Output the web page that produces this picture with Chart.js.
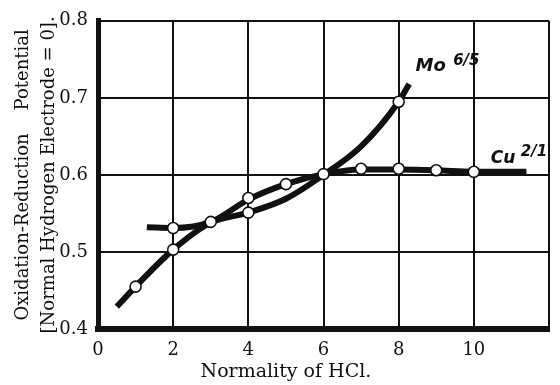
<!DOCTYPE html>
<html>
<head>
<meta charset="utf-8">
<script src="https://cdn.jsdelivr.net/npm/chart.js@4"></script>
<style>
  html, body { margin: 0; padding: 0; background: #fff; }
  #wrap { width: 560px; height: 385px; }
</style>
</head>
<body>
<div id="wrap"><canvas id="chart"></canvas></div>
<script>
// smooth curves as drawn in the figure
const moCurveX = [0.5, 1, 2, 3, 4, 5, 6, 7, 8, 8.28]
const moCurveY = [0.429, 0.455, 0.503, 0.538, 0.551, 0.569, 0.600, 0.637, 0.695, 0.718]
const cuCurveX = [1.3, 2, 3, 4, 5, 6, 7, 8, 9, 10, 11.4]
const cuCurveY = [0.532, 0.531, 0.539, 0.568, 0.588, 0.601, 0.607, 0.607, 0.606, 0.604, 0.604]

// measured points (open circles)
const moPointX = [1, 2, 4, 8]
const moPointY = [0.455, 0.503, 0.551, 0.695]
const cuPointX = [2, 3, 4, 5, 6, 7, 8, 9, 10]
const cuPointY = [0.531, 0.539, 0.570, 0.588, 0.601, 0.608, 0.608, 0.606, 0.604]

const xTitle = "Normality of HCl."
const yTitle = ["Oxidation-Reduction    Potential", "[Normal Hydrogen Electrode = 0]."]

const ink = "#111"
const serif = "'DejaVu Serif', serif"

function toPoints(xs, ys){
    return xs.map((x, i) => ({x: x, y: ys[i]}))
}

function curve(xs, ys){
    return {
        data: toPoints(xs, ys),
        showLine: true,
        borderColor: ink,
        borderWidth: 6,
        borderCapStyle: "butt",
        cubicInterpolationMode: "monotone",
        pointRadius: 0,
        order: 2
    }
}

function circles(xs, ys){
    return {
        data: toPoints(xs, ys),
        showLine: false,
        pointRadius: 5.5,
        pointBorderWidth: 1.6,
        pointBorderColor: ink,
        pointBackgroundColor: "#fff",
        order: 1
    }
}

//labels on the curves + x axis title
const textPlugin = {
    id: "textPlugin",
    afterDatasetsDraw(chart){
        const ctx = chart.ctx
        const xs = chart.scales.x, ys = chart.scales.y
        ctx.save()
        ctx.fillStyle = ink
        ctx.textBaseline = "alphabetic"

        ctx.font = "italic bold 18px 'DejaVu Sans', sans-serif"
        ctx.fillText("Mo", xs.getPixelForValue(8.45), ys.getPixelForValue(0.735))
        ctx.font = "italic bold 15px 'DejaVu Sans', sans-serif"
        ctx.fillText("6/5", xs.getPixelForValue(9.45), ys.getPixelForValue(0.743))

        ctx.font = "italic bold 17px 'DejaVu Sans', sans-serif"
        ctx.fillText("Cu", xs.getPixelForValue(10.45), ys.getPixelForValue(0.616))
        ctx.font = "italic bold 15px 'DejaVu Sans', sans-serif"
        ctx.fillText("2/1", xs.getPixelForValue(11.25), ys.getPixelForValue(0.624))

        ctx.font = "19px " + serif
        ctx.textAlign = "center"
        ctx.fillText(xTitle, xs.getPixelForValue(5), 377)
        ctx.restore()
    }
}

new Chart(document.getElementById("chart"), {
    type: "scatter",
    data: {
        datasets: [
            circles(moPointX, moPointY),
            circles(cuPointX, cuPointY),
            curve(moCurveX, moCurveY),
            curve(cuCurveX, cuCurveY)
        ]
    },
    options: {
        responsive: true,
        maintainAspectRatio: false,
        animation: false,
        layout: {
            padding: {top: 16, right: 4, left: 0, bottom: 0}
        },
        scales: {
            x: {
                min: 0,
                max: 12,
                afterFit: s => { s.height = 56 },
                grid: {
                    color: ink,
                    lineWidth: 2,
                    drawTicks: false
                },
                border: {color: ink, width: 6},
                ticks: {
                    stepSize: 2,
                    padding: 11,
                    color: ink,
                    font: {family: serif, size: 18},
                    callback: v => v === 12 ? "" : v
                }
            },
            y: {
                min: 0.4,
                max: 0.8,
                afterFit: s => { s.width = 98 },
                grid: {
                    color: ink,
                    lineWidth: 2,
                    drawTicks: false
                },
                border: {color: ink, width: 5},
                ticks: {
                    stepSize: 0.1,
                    padding: 10,
                    color: ink,
                    font: {family: serif, size: 18},
                    callback: v => v.toFixed(1)
                },
                title: {
                    display: true,
                    text: yTitle,
                    color: ink,
                    font: {family: serif, size: 18, lineHeight: 1.45},
                    padding: {top: 10, bottom: 0}
                }
            }
        },
        plugins: {
            legend: {display: false},
            tooltip: {enabled: false}
        }
    },
    plugins: [textPlugin]
})
</script>
</body>
</html>
